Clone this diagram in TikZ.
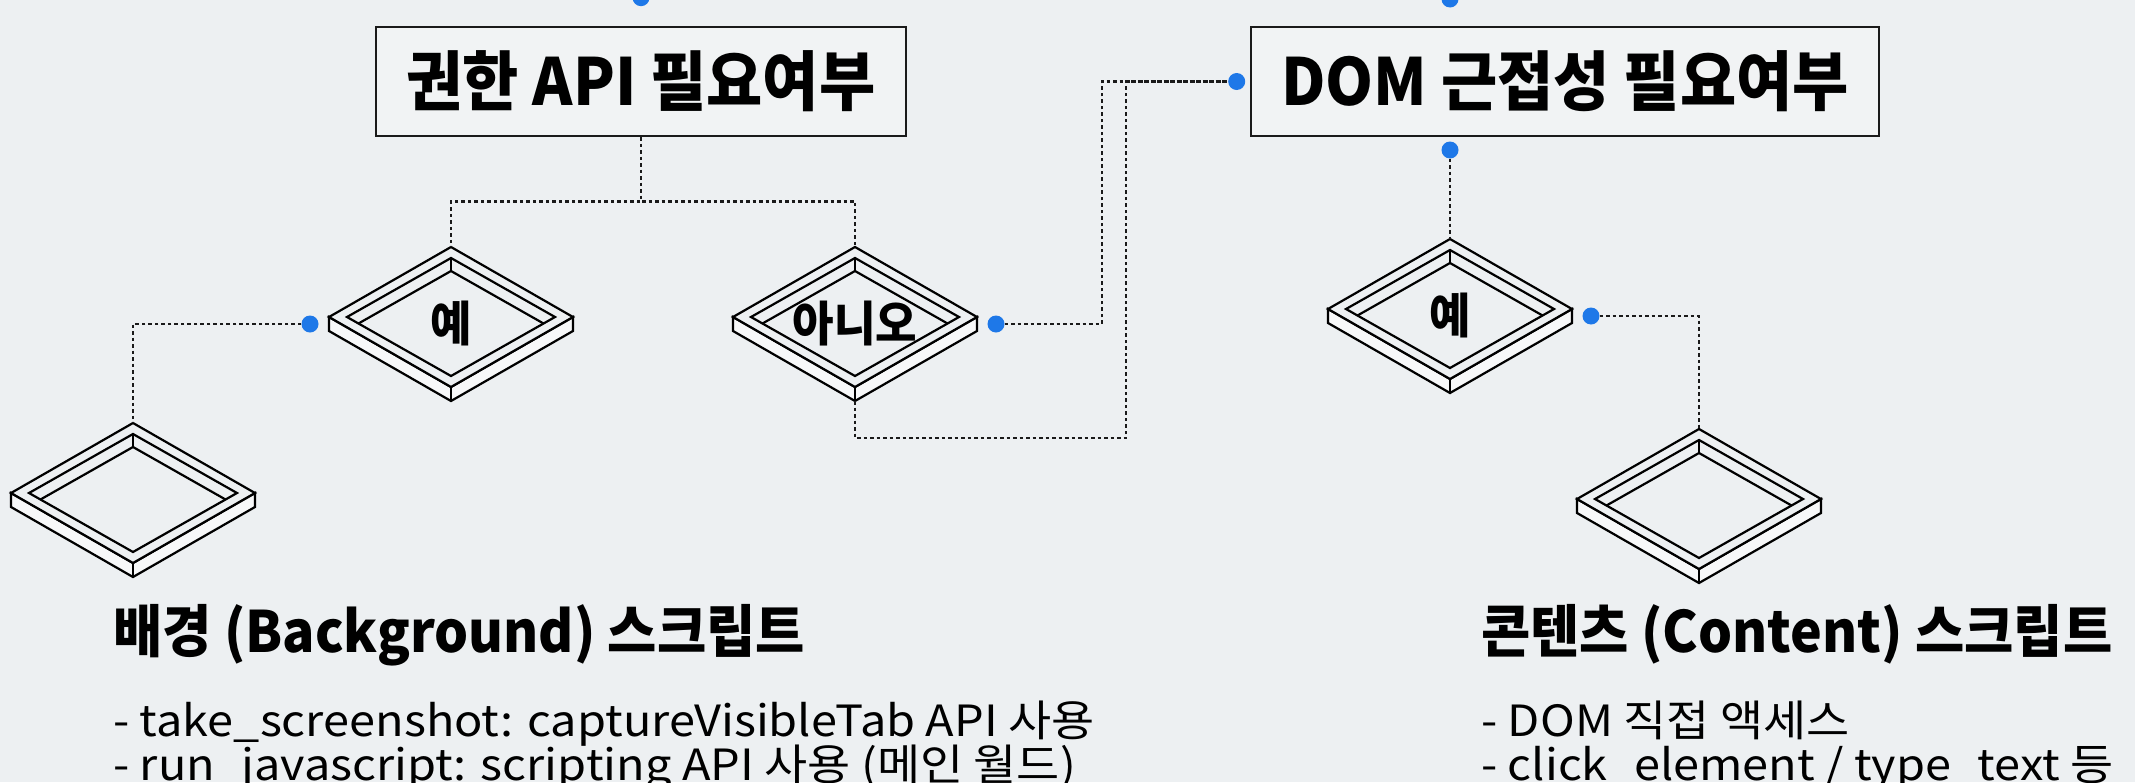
\documentclass[tikz,border=0pt]{standalone}
\usepackage{fontspec}
\setmainfont{Noto Sans CJK KR}
\newfontfamily\titlefont{Noto Sans CJK KR}[FakeStretch=0.94]
\newfontfamily\bodyfont{Noto Sans CJK KR}[FakeStretch=1.09]
\usepackage{tikz}
\usetikzlibrary{positioning,calc,backgrounds,shapes.geometric}
\definecolor{pagebg}{HTML}{EDF0F2}
\definecolor{boxfill}{HTML}{F1F3F4}
\definecolor{sidefill}{HTML}{F7F8F9}
\definecolor{dotblue}{HTML}{1E78E8}
\definecolor{inkline}{HTML}{1A1A1A}

% isometric frame drawn round a diamond node
\newcommand{\slabframe}[1]{%
  \begin{scope}[shift={(#1.center)}, slabline]
    \draw[fill=sidefill] (-122,0) -- (-122,14) -- (0,84) -- (122,14) -- (122,0) -- (0,70) -- cycle;
    \draw (0,70) -- (0,84);
    \draw[fill=pagebg] (0,-70) -- (122,0) -- (0,70) -- (-122,0) -- cycle;
    \draw (0,-59) -- (104,0) -- (0,59) -- (-104,0) -- cycle;
    \begin{scope}
      \clip (0,-59) -- (104,0) -- (0,59) -- (-104,0) -- cycle;
      \draw (-104,13) -- (0,-46) -- (104,13);
    \end{scope}
    \draw (0,-59) -- (0,-46);
  \end{scope}}
\newcommand{\slablabel}[1]{\raisebox{-24pt}[0pt][0pt]{#1}}

\begin{document}
\begin{tikzpicture}[
  x=1pt, y=-1pt,
  qbox/.style={draw=inkline, fill=boxfill, line width=2.6pt, inner sep=0pt,
               font=\titlefont\bfseries\fontsize{65}{78}\selectfont},
  slab/.style={shape=diamond, draw=none, inner sep=0pt, outer sep=0pt,
               minimum width=244pt, minimum height=140pt,
               font=\titlefont\bfseries\fontsize{48}{58}\selectfont},
  slabline/.style={draw=black, line width=2.2pt, line join=miter},
  dot/.style={circle, fill=dotblue, inner sep=0pt, minimum size=17pt},
  link/.style={draw=inkline, line width=2.6pt, dash pattern=on 3.5pt off 3pt},
  head/.style={inner sep=0pt, anchor=base west,
               font=\titlefont\bfseries\fontsize{57}{68}\selectfont},
  note/.style={inner sep=0pt, anchor=base west,
               font=\bodyfont\fontsize{43}{52}\selectfont},
]
\useasboundingbox (0,0) rectangle (2135,782);

\node[qbox, minimum width=530pt, minimum height=109pt] (perm) at (641,81.5) {권한 API 필요여부};
\node[qbox, minimum width=628pt, minimum height=109pt] (dom) at (1565,81.5) {DOM 근접성 필요여부};

\node[slab] (yesA) at (451,317) {\slablabel{예}};
\node[slab] (noB) at (855,317) {\slablabel{아니오}};
\node[slab] (endC) at (133,493) {};
\node[slab] (yesD) at (1450,309) {\slablabel{예}};
\node[slab] (endE) at (1699,499) {};

\begin{scope}[on background layer]
  \fill[pagebg] (0,0) rectangle (2135,782);
  \foreach \s in {yesA,noB,endC,yesD,endE} {\slabframe{\s}}
\end{scope}

\node[dot] (dPermT) at ([yshift=28pt]perm.north) {};
\node[dot] (dDomT) at (1450,-1) {};
\node[dot] (dDomL) at ([xshift=-13pt]dom.west) {};
\node[dot] (dDomB) at (1450,150) {};
\node[dot] (dA) at ($(yesA.west)+(-19,7)$) {};
\node[dot] (dB) at ($(noB.east)+(19,7)$) {};
\node[dot] (dD) at ($(yesD.east)+(19,7)$) {};

\draw[link] (perm.south) -- ++(0,64) -| (yesA.north);
\draw[link] (perm.south) -- ++(0,64) -| (noB.north);
\draw[link] (dA) -| (endC.north);
\draw[link] (dB) -- ++(106,0) |- (dDomL);
\draw[link] ([yshift=-14pt]noB.south) -- ++(0,37) -- ++(271,0) |- (dDomL);
\draw[link] (dDomB) -- (yesD.north);
\draw[link] (dD) -| (endE.north);

\node[head] (bgHead) at (113,652) {배경 (Background) 스크립트};
\node[note] (bgOne) at (113,736) {- take\_screenshot: captureVisibleTab API 사용};
\node[note] (bgTwo) at (113,780) {- run\_javascript: scripting API 사용 (메인 월드)};

\node[head] (ctHead) at (1481,652) {콘텐츠 (Content) 스크립트};
\node[note] (ctOne) at (1481,736) {- DOM 직접 액세스};
\node[note] (ctTwo) at (1481,780) {- click\_element / type\_text 등};
\end{tikzpicture}
\end{document}
